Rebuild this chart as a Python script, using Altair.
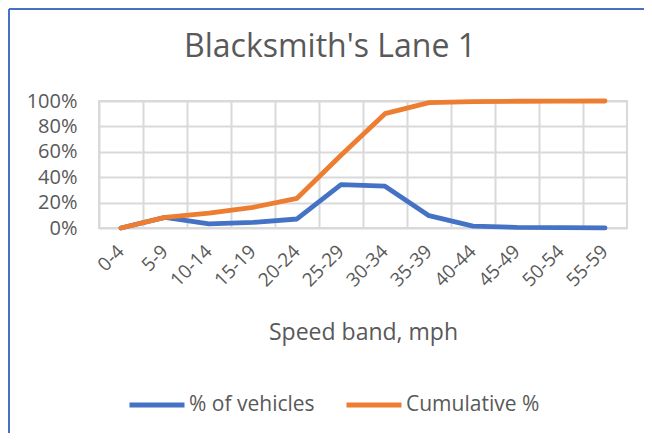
import altair as alt
import pandas as pd

title_text = ["Blacksmith's Lane 1"]
categories = ["0-4", "5-9", "10-14", "15-19", "20-24", "25-29", "30-34",
              "35-39", "40-44", "45-49", "50-54", "55-59"]
pct_vehicles = [0.0, 8.4, 3.2, 4.4, 7.1, 34.2, 32.9, 9.7, 1.5, 0.5, 0.3, 0.1]
cumulative = [0.0, 8.4, 11.8, 16.3, 23.4, 57.3, 90.0, 98.7, 99.5, 99.8, 99.9, 100.0]
series_names = ["% of vehicles", "Cumulative %"]
series_colors = ["#4472C4", "#ED7D31"]

rows = []
for c, v in zip(categories, pct_vehicles):
    rows.append({"band": c, "series": series_names[0], "value": v / 100})
for c, v in zip(categories, cumulative):
    rows.append({"band": c, "series": series_names[1], "value": v / 100})
df = pd.DataFrame(rows)

FONT = "Open Sans"
GRAY = "#595959"

lines = alt.Chart(df).mark_line(strokeWidth=4.8, strokeCap="round", strokeJoin="round").encode(
    x=alt.X("band:N", sort=categories, bandPosition=0.5,
            scale=alt.Scale(type="band", paddingInner=0, paddingOuter=0),
            axis=alt.Axis(title="Speed band, mph", bandPosition=0, labelOffset=0,
                          labelAngle=-45, labelAlign="right", labelBaseline="middle",
                          labelFontSize=19, labelColor=GRAY, labelFont=FONT, labelPadding=20,
                          ticks=False, domain=False, grid=True, gridColor="#d9d9d9", gridWidth=2,
                          titleFontSize=23, titleFont=FONT, titleColor=GRAY, titleFontWeight="normal",
                          titlePadding=31)),
    y=alt.Y("value:Q", scale=alt.Scale(domain=[0, 1]),
            axis=alt.Axis(title=None, format=".0%", values=[0, 0.2, 0.4, 0.6, 0.8, 1.0],
                          labelFontSize=20, labelColor=GRAY, labelFont=FONT, labelPadding=22,
                          ticks=False, domain=False, gridColor="#d9d9d9", gridWidth=2)),
    color=alt.Color("series:N", sort=series_names,
                    scale=alt.Scale(domain=series_names, range=series_colors),
                    legend=alt.Legend(title=None, orient="none", direction="horizontal",
                                      legendX=28, legendY=274, symbolType="stroke",
                                      symbolSize=3025, symbolStrokeWidth=4.8,
                                      labelFontSize=21, labelFont=FONT, labelColor=GRAY,
                                      labelOffset=2, columnPadding=21)),
)

title = alt.Chart(pd.DataFrame({"t": title_text})).mark_text(
    font=FONT, fontSize=32, color=GRAY, align="center", baseline="alphabetic"
).encode(text="t:N", x=alt.value(231), y=alt.value(-44))

border = alt.Chart(pd.DataFrame({"k": [0]})).mark_rule(color="#4472C4", strokeWidth=2).encode(
    x=alt.value(-90), y=alt.value(-92), y2=alt.value(340)
)
border_top = alt.Chart(pd.DataFrame({"k": [0]})).mark_rule(color="#4472C4", strokeWidth=2).encode(
    x=alt.value(-90), x2=alt.value(560), y=alt.value(-92)
)

chart = alt.layer(lines, title, border, border_top).properties(
    width=528, height=127,
    autosize=alt.AutoSizeParams(type="none"),
    padding={"left": 91, "top": 93, "right": 17, "bottom": 205},
).configure_view(stroke="#d9d9d9", strokeWidth=2)

chart.save("out.html", embed_options={"renderer": "svg", "actions": False})
